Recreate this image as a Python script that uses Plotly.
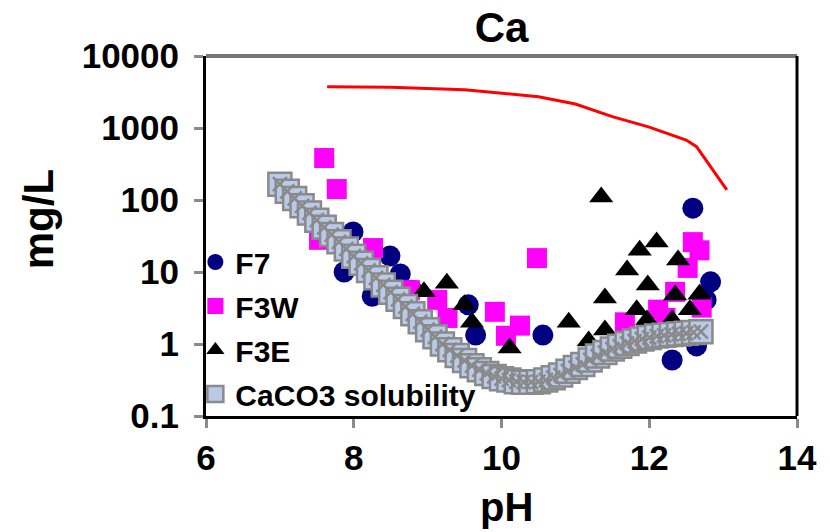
import plotly.graph_objects as go

# Measured calcium concentrations (mg/L) against leachate pH
ph_f7 = [7.99, 7.87, 8.49, 8.63, 8.25, 8.79, 9.55, 9.65, 10.56, 12.59, 12.83, 12.77, 12.31, 12.64]
ca_f7 = [36, 10, 16.7, 9.4, 4.6, 5.6, 3.5, 1.33, 1.33, 77, 7.3, 4.1, 0.6, 0.94]

ph_f3w = [7.60, 7.77, 7.53, 8.26, 8.76, 9.13, 9.27, 9.91, 10.25, 10.06, 10.48,
          11.67, 12.12, 12.59, 12.68, 12.52, 12.35, 12.71, 12.22]
ca_f3w = [383, 142, 28, 21.5, 5.6, 4.1, 2.3, 2.8, 1.8, 1.3, 15.6,
          2.0, 3.0, 26, 20, 11.4, 5.3, 3.2, 2.3]

ph_f3e = [8.95, 9.26, 9.50, 9.60, 10.11, 10.91, 11.18, 11.40, 11.35, 11.40, 11.70,
          11.87, 12.10, 11.98, 11.83, 11.97, 12.39, 12.35, 12.31, 12.68, 12.55]
ca_f3e = [5.3, 7.0, 3.5, 2.0, 0.88, 2.0, 1.1, 1.56, 110, 4.35, 10.7,
          20, 26, 6.6, 3.0, 2.15, 14.7, 4.8, 2.15, 4.9, 3.0]

# Calcite solubility curve
ph_caco3 = [7.0, 7.1, 7.2, 7.3, 7.4, 7.5, 7.6, 7.7, 7.8, 7.9,
            8.0, 8.1, 8.2, 8.3, 8.4, 8.5, 8.6, 8.7, 8.8, 8.9,
            9.0, 9.1, 9.2, 9.3, 9.4, 9.5, 9.6, 9.7, 9.8, 9.9,
            10.0, 10.1, 10.2, 10.3, 10.4, 10.5, 10.6, 10.7, 10.8, 10.9,
            11.0, 11.1, 11.2, 11.3, 11.4, 11.5, 11.6, 11.7, 11.8, 11.9,
            12.0, 12.1, 12.2, 12.3, 12.4, 12.5, 12.6, 12.7]
ca_caco3 = [166, 132, 105, 83, 66, 52.5, 41.7, 33.1, 26.3, 20.9,
            16.6, 13.2, 10.5, 8.3, 6.6, 5.25, 4.17, 3.31, 2.63, 2.04,
            1.58, 1.26, 1.0, 0.83, 0.69, 0.59, 0.50, 0.44, 0.39, 0.355,
            0.33, 0.316, 0.30, 0.295, 0.295, 0.30, 0.316, 0.34, 0.37, 0.42,
            0.47, 0.52, 0.60, 0.68, 0.76, 0.85, 0.93, 1.02, 1.10, 1.17,
            1.23, 1.29, 1.32, 1.35, 1.38, 1.41, 1.45, 1.48]

# Upper bound line
ph_upper = [7.64, 8.5, 9.5, 10.5, 11.0, 11.5, 12.0, 12.5, 12.64, 13.05]
ca_upper = [3750, 3670, 3400, 2720, 2150, 1440, 1030, 680, 550, 138]

y_ticks = [0.1, 1, 10, 100, 1000, 10000]
y_tick_text = ["0.1", "1", "10", "100", "1000", "10000"]
x_ticks = [6, 8, 10, 12, 14]
x_tick_text = ["6", "8", "10", "12", "14"]

FONT = "Liberation Sans, Arial, sans-serif"
GREY = "#8a8a8a"

fig = go.Figure()

fig.add_trace(go.Scatter(
    x=ph_upper, y=ca_upper, mode="lines",
    line=dict(color="#ff0000", width=3),
    showlegend=False, hoverinfo="skip"))

fig.add_trace(go.Scatter(
    x=ph_f7, y=ca_f7, mode="markers", name="F7", legendgroup="a",
    marker=dict(symbol="circle", size=21, color="#000080")))

fig.add_trace(go.Scatter(
    x=ph_f3w, y=ca_f3w, mode="markers", name="F3W", legendgroup="b",
    marker=dict(symbol="square", size=20, color="#ff00ff")))

fig.add_trace(go.Scatter(
    x=ph_f3e, y=ca_f3e, mode="markers", name="F3E", legendgroup="c",
    marker=dict(symbol="triangle-up", size=21, color="#000000")))

fig.add_trace(go.Scatter(
    x=ph_caco3, y=ca_caco3, mode="markers", name="CaCO3 solubility", legendgroup="d",
    marker=dict(symbol="square", size=23, color="#b9cae8",
                line=dict(color=GREY, width=2.5))))

# hatch texture on top of the solubility squares
fig.add_trace(go.Scatter(
    x=ph_caco3, y=ca_caco3, mode="markers", showlegend=False, hoverinfo="skip",
    marker=dict(symbol="x-thin-open", size=14, color=GREY,
                line=dict(color=GREY, width=2.5))))

axis_common = dict(
    showline=True, linecolor="#000000", linewidth=3,
    ticks="outside", ticklen=9, tickwidth=3, tickcolor=GREY,
    showgrid=False, zeroline=False,
    tickfont=dict(family=FONT, size=35, color="#000000", weight="bold"),
)

fig.update_layout(
    width=830, height=532,
    margin=dict(l=206, r=33, t=56, b=116),
    paper_bgcolor="#ffffff", plot_bgcolor="#ffffff",
    title=dict(text="Ca", x=0.5, xref="paper", xanchor="center",
               y=1 - 27 / 532, yref="container", yanchor="middle",
               font=dict(family=FONT, size=42, color="#000000", weight="bold")),
    xaxis=dict(range=[6, 14], tickvals=x_ticks, ticktext=x_tick_text, **axis_common),
    yaxis=dict(type="log", range=[-1, 4], tickvals=y_ticks, ticktext=y_tick_text,
               ticklabelstandoff=8, **axis_common),
    legend=dict(x=-0.018, y=0.5, xanchor="left", yanchor="top",
                bgcolor="rgba(0,0,0,0)", tracegroupgap=2,
                font=dict(family=FONT, size=30, color="#000000", weight="bold")),
    showlegend=True,
    shapes=[
        dict(type="line", xref="paper", yref="paper", x0=0, x1=1, y0=1, y1=1,
             line=dict(color="#777777", width=4)),
        dict(type="line", xref="paper", yref="paper", x0=1, x1=1, y0=0, y1=1,
             line=dict(color="#000000", width=3)),
    ],
    annotations=[
        dict(text="mg/L", xref="paper", yref="paper", x=-0.284, y=0.547,
             textangle=-90, showarrow=False, xanchor="center", yanchor="middle",
             font=dict(family=FONT, size=42, color="#000000", weight="bold")),
        dict(text="pH", xref="paper", yref="paper", x=0.509, y=-0.253,
             showarrow=False, xanchor="center", yanchor="middle",
             font=dict(family=FONT, size=40, color="#000000", weight="bold")),
    ],
)

fig.write_html("out.html")
